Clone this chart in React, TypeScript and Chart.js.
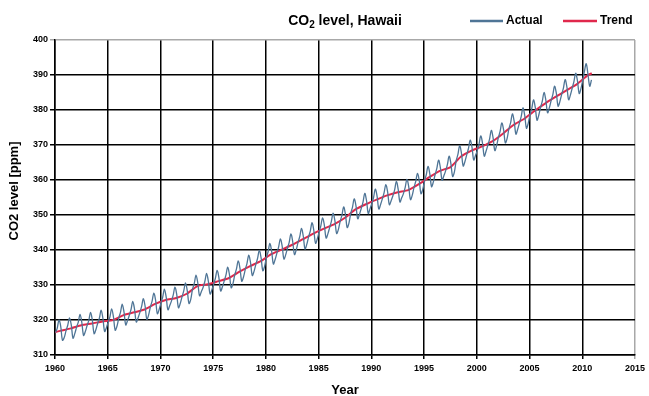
import { useEffect, useRef } from "react";
import { Chart, registerables } from "chart.js";
Chart.register(...registerables);

const firstYear = 1960;
const sampleMonths = [1, 3, 5, 7, 9, 11];
// Actual CO2 (ppm), one row per year, values at sampleMonths
const actual: number[][] = [
  [316.4, 317.6, 320.0, 318.2, 314.2, 315.0], // 1960
  [316.9, 318.5, 320.6, 318.6, 314.8, 316.1],
  [317.9, 319.4, 321.6, 319.3, 315.6, 316.7],
  [318.4, 319.9, 322.2, 319.9, 316.1, 317.2],
  [319.0, 320.5, 322.8, 320.5, 316.7, 317.8],
  [319.4, 320.9, 323.2, 320.9, 317.1, 318.2], // 1965
  [320.5, 322.2, 324.5, 322.3, 318.6, 319.8],
  [321.3, 323.0, 325.3, 323.1, 319.4, 320.6],
  [322.1, 323.8, 326.1, 324.0, 320.2, 321.4],
  [323.7, 325.4, 327.7, 325.6, 321.8, 323.0],
  [324.8, 326.5, 328.8, 326.6, 322.9, 324.1], // 1970
  [325.4, 327.1, 329.4, 327.3, 323.5, 324.7],
  [326.6, 328.3, 330.6, 328.4, 324.7, 325.9],
  [328.8, 330.5, 332.8, 330.6, 326.9, 328.1],
  [329.3, 331.0, 333.3, 331.1, 327.4, 328.6],
  [330.2, 331.9, 334.2, 332.1, 328.3, 329.5], // 1975
  [331.1, 332.8, 335.1, 333.0, 329.2, 330.4],
  [332.8, 334.6, 336.9, 334.8, 331.1, 332.3],
  [334.4, 336.2, 338.5, 336.4, 332.7, 333.9],
  [335.8, 337.6, 339.9, 337.8, 334.1, 335.3],
  [337.8, 339.5, 341.9, 339.7, 336.0, 337.3], // 1980
  [339.1, 340.9, 343.2, 341.1, 337.4, 338.6],
  [340.5, 342.2, 344.6, 342.4, 338.7, 340.0],
  [342.1, 343.8, 346.2, 344.0, 340.3, 341.6],
  [343.7, 345.4, 347.8, 345.6, 341.9, 343.2],
  [345.1, 346.9, 349.2, 347.1, 343.4, 344.6], // 1985
  [346.4, 348.2, 350.5, 348.4, 344.7, 345.9],
  [348.2, 349.9, 352.3, 350.2, 346.4, 347.7],
  [350.4, 352.2, 354.6, 352.6, 348.9, 350.2],
  [351.9, 353.7, 356.2, 354.1, 350.4, 351.8],
  [353.2, 355.0, 357.4, 355.4, 351.7, 353.0], // 1990
  [354.6, 356.4, 358.7, 356.6, 352.9, 354.1],
  [355.5, 357.2, 359.6, 357.4, 353.7, 354.9],
  [356.1, 357.9, 360.2, 358.1, 354.4, 355.6],
  [357.8, 359.6, 361.9, 359.8, 356.1, 357.3],
  [359.7, 361.5, 363.9, 361.8, 358.1, 359.4], // 1995
  [361.5, 363.3, 365.7, 363.6, 359.9, 361.2],
  [362.6, 364.4, 366.8, 364.7, 361.0, 362.3],
  [365.5, 367.3, 369.8, 367.7, 364.0, 365.3],
  [367.2, 369.0, 371.4, 369.4, 365.7, 367.0],
  [368.4, 370.2, 372.6, 370.5, 366.8, 368.2], // 2000
  [369.9, 371.7, 374.2, 372.1, 368.4, 369.8],
  [372.1, 373.9, 376.3, 374.3, 370.6, 371.9],
  [374.6, 376.4, 378.9, 376.8, 373.1, 374.5],
  [376.3, 378.1, 380.6, 378.5, 374.8, 376.2],
  [378.6, 380.4, 382.9, 380.8, 377.1, 378.5], // 2005
  [380.7, 382.5, 385.0, 382.9, 379.2, 380.6],
  [382.6, 384.4, 386.8, 384.8, 381.1, 382.4],
  [384.4, 386.2, 388.7, 386.6, 382.9, 384.3],
  [386.2, 388.1, 390.5, 388.4, 384.7, 386.1],
  [388.5, 391.1, 393.2, 390.2, 386.8, 388.6], // 2010
];
// Trend (annual mean, ppm) at mid-year, 1960..2010
const trend = [
  316.9, 317.6, 318.5, 319.0, 319.6, 320.0, 321.4, 322.2, 323.0, 324.6,
  325.7, 326.3, 327.5, 329.7, 330.2, 331.1, 332.0, 333.8, 335.4, 336.8,
  338.8, 340.1, 341.5, 343.1, 344.7, 346.1, 347.4, 349.2, 351.6, 353.1,
  354.4, 355.6, 356.5, 357.1, 358.8, 360.8, 362.6, 363.7, 366.7, 368.4,
  369.6, 371.1, 373.3, 375.8, 377.5, 379.8, 381.9, 383.8, 385.6, 387.4,
  389.9,
];
const trendStartX = 1960.0;
const trendStartY = 316.5;
const trendEndX = 2010.9;
const trendEndY = 390.5;

const xMin = 1960, xMax = 2015, xStep = 5;
const yMin = 310, yMax = 400, yStep = 10;

const actualColor = "#4f7596";
const trendColor = "#e0284c";
const FONT = '"Liberation Sans", Arial, sans-serif';

const textPlugin = {
  id: "customTexts",
  afterDraw(chart: any) {
    const { ctx, chartArea } = chart;
    const cx = (chartArea.left + chartArea.right) / 2;
    ctx.save();
    ctx.fillStyle = "#000";
    // Title with subscript
    const big = `bold 14px ${FONT}`;
    const small = `bold 10px ${FONT}`;
    ctx.font = big;
    const w1 = ctx.measureText("CO").width;
    const w3 = ctx.measureText(" level, Hawaii").width;
    ctx.font = small;
    const w2 = ctx.measureText("2").width;
    let x = cx - (w1 + w2 + w3) / 2;
    const by = 25;
    ctx.textBaseline = "alphabetic";
    ctx.textAlign = "left";
    ctx.font = big;
    ctx.fillText("CO", x, by);
    x += w1;
    ctx.font = small;
    ctx.fillText("2", x, by + 3);
    x += w2;
    ctx.font = big;
    ctx.fillText(" level, Hawaii", x, by);

    // Legend
    const leg = `bold 12px ${FONT}`;
    ctx.lineWidth = 2.5;
    ctx.strokeStyle = actualColor;
    ctx.beginPath();
    ctx.moveTo(470, 21);
    ctx.lineTo(503, 21);
    ctx.stroke();
    ctx.strokeStyle = trendColor;
    ctx.beginPath();
    ctx.moveTo(563, 21);
    ctx.lineTo(597, 21);
    ctx.stroke();
    ctx.textBaseline = "middle";
    ctx.font = leg;
    ctx.fillText("Actual", 506, 21);
    ctx.fillText("Trend", 600, 21);

    // Axis titles
    const ax = `bold 13px ${FONT}`;
    ctx.font = ax;
    ctx.textAlign = "center";
    ctx.fillText("Year", cx, 390);
    ctx.translate(14, 191);
    ctx.rotate(-Math.PI / 2);
    ctx.fillText("CO2 level [ppm]", 0, 0);
    ctx.restore();
  },
};

export default function App() {
  const ref = useRef<HTMLCanvasElement>(null);
  useEffect(() => {
    if (!ref.current) return;
    const actualPts: { x: number; y: number }[] = [];
    actual.forEach((row, i) => {
      row.forEach((v, j) => {
        actualPts.push({ x: firstYear + i + (sampleMonths[j] - 0.5) / 12, y: v });
      });
    });
    const trendPts = [
      { x: trendStartX, y: trendStartY },
      ...trend.map((v, i) => ({ x: firstYear + i + 0.5, y: v })),
      { x: trendEndX, y: trendEndY },
    ];
    const chart = new Chart(ref.current, {
      type: "line",
      data: {
        datasets: [
          {
            label: "Actual",
            data: actualPts,
            borderColor: actualColor,
            borderWidth: 1.3,
            pointRadius: 0,
            tension: 0.35,
          },
          {
            label: "Trend",
            data: trendPts,
            borderColor: trendColor,
            borderWidth: 2,
            pointRadius: 0,
            tension: 0.2,
          },
        ],
      },
      options: {
        animation: false,
        responsive: false,
        maintainAspectRatio: false,
        layout: { padding: { top: 40, right: 12, left: 0, bottom: 0 } },
        plugins: {
          legend: { display: false },
          title: { display: false },
          tooltip: { enabled: false },
        },
        scales: {
          x: {
            type: "linear",
            min: xMin,
            max: xMax,
            afterFit: (s: any) => {
              s.height = 41;
            },
            ticks: {
              stepSize: xStep,
              padding: 4,
              color: "#000",
              font: { family: FONT, size: 9, weight: "bold" },
              callback: (v: any) => String(v),
              maxRotation: 0,
            },
            grid: {
              color: (c: any) => (c.tick && c.tick.value === xMax ? "#a8a8a8" : "#000"),
              lineWidth: 1.5,
              tickLength: 4,
            },
            border: { color: "#000", width: 1.5 },
          },
          y: {
            min: yMin,
            max: yMax,
            afterFit: (s: any) => {
              s.width = 55;
            },
            ticks: {
              stepSize: yStep,
              padding: 2,
              color: "#000",
              font: { family: FONT, size: 9, weight: "bold" },
            },
            grid: {
              color: (c: any) => (c.tick && c.tick.value === yMax ? "#a8a8a8" : "#000"),
              lineWidth: 1.5,
              tickLength: 5,
            },
            border: { color: "#000", width: 1.5 },
          },
        },
      },
      plugins: [textPlugin],
    });
    return () => chart.destroy();
  }, []);
  return (
    <div style={{ position: "absolute", left: 0, top: 0, width: 649, height: 396, background: "#fff" }}>
      <canvas ref={ref} width={649} height={396} />
    </div>
  );
}
